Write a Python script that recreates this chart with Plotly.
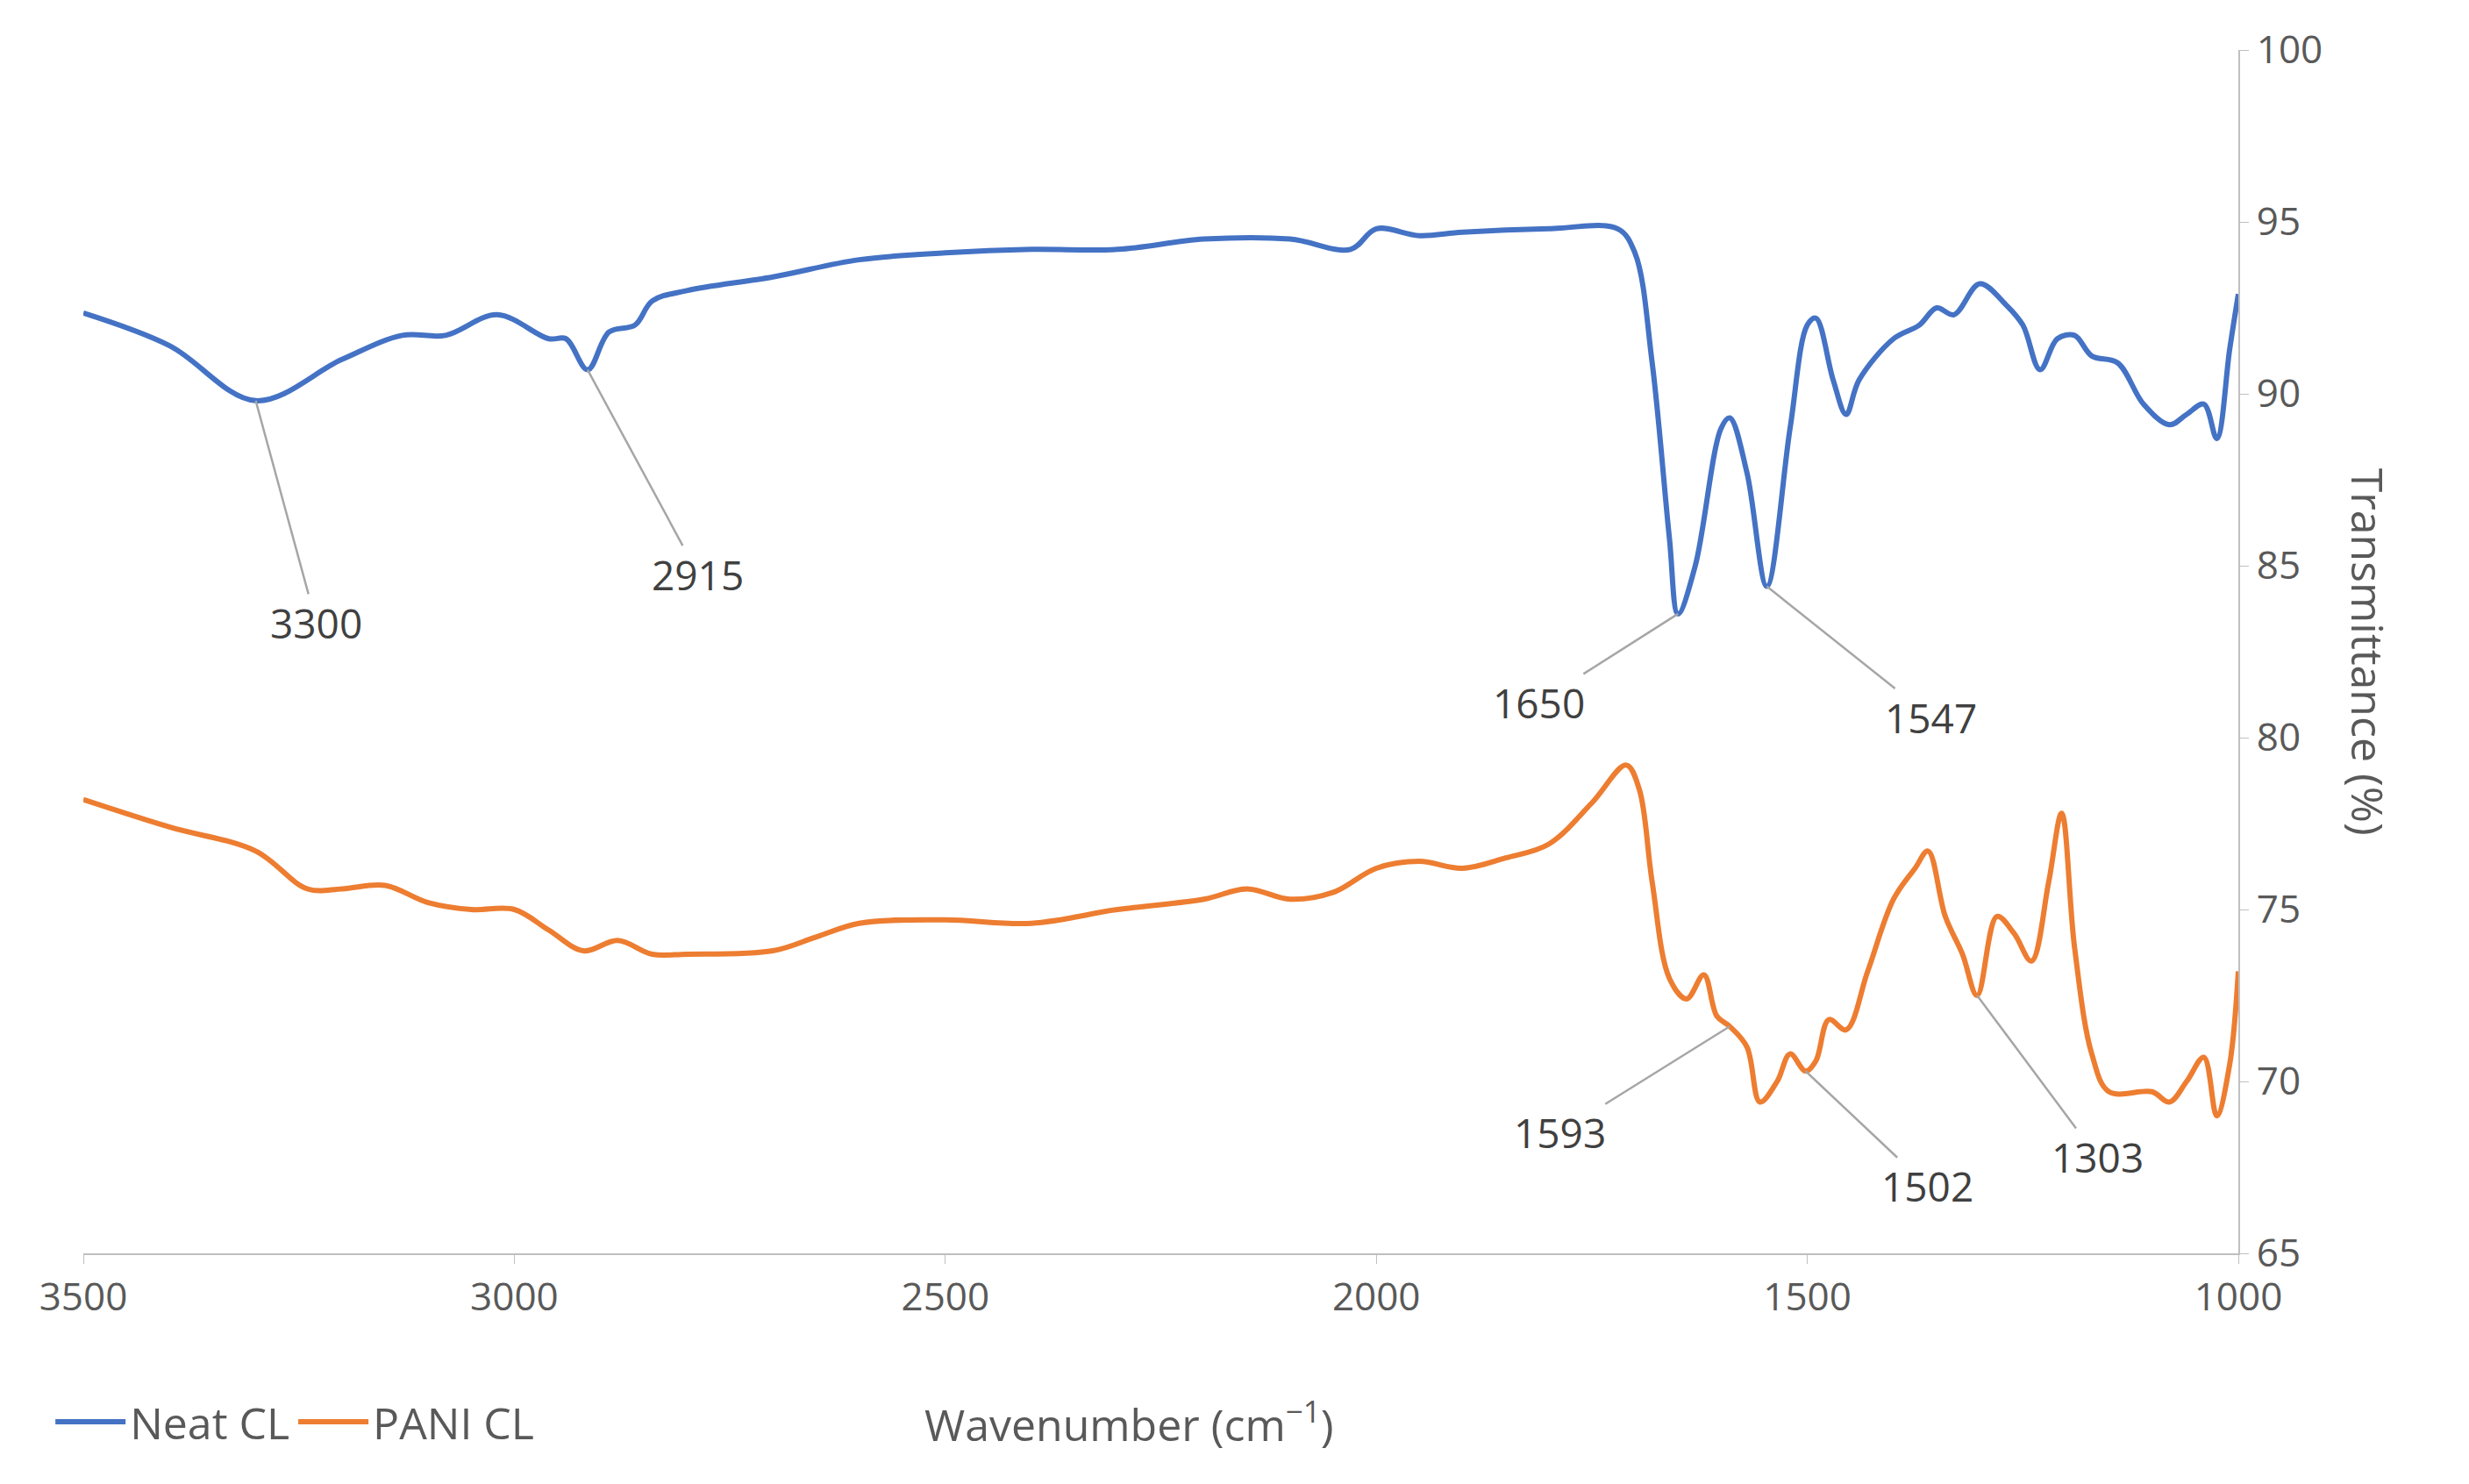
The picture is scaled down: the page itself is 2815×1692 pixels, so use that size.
import plotly.graph_objects as go

# Neat CL spectrum
neat_wn = [3500, 3400, 3300, 3200, 3130, 3080, 3020, 2960, 2940, 2915, 2890, 2860, 2840, 2800,
           2700, 2600, 2500, 2400, 2300, 2200, 2100, 2030, 2000, 1950, 1900, 1800, 1720, 1700,
           1680, 1660, 1650, 1630, 1600, 1590, 1570, 1547, 1520, 1500, 1490, 1470, 1455, 1440,
           1400, 1370, 1350, 1330, 1300, 1270, 1250, 1230, 1210, 1190, 1170, 1140, 1110, 1080,
           1060, 1040, 1025, 1010, 1000]
neat_t = [92.35, 91.4, 89.8, 91.0, 91.7, 91.7, 92.3, 91.6, 91.6, 90.7, 91.8, 92.0, 92.7, 93.0,
          93.4, 93.9, 94.1, 94.2, 94.2, 94.5, 94.5, 94.2, 94.8, 94.6, 94.7, 94.8, 94.8, 94.1,
          90.9, 85.8, 83.6, 85.0, 89.0, 89.3, 87.7, 84.4, 89.0, 92.0, 92.2, 90.4, 89.4, 90.4,
          91.6, 92.0, 92.5, 92.3, 93.2, 92.6, 92.0, 90.7, 91.6, 91.7, 91.1, 90.9, 89.7, 89.1,
          89.4, 89.7, 88.7, 91.3, 92.9]

# PANI CL spectrum
pani_wn = [3500, 3400, 3300, 3240, 3200, 3150, 3100, 3050, 3000, 2960, 2920, 2880, 2840, 2800,
           2700, 2650, 2600, 2500, 2400, 2300, 2200, 2150, 2100, 2050, 2000, 1950, 1900, 1850,
           1800, 1750, 1710, 1695, 1680, 1660, 1640, 1620, 1605, 1590, 1570, 1555, 1535, 1520,
           1502, 1490, 1475, 1455, 1430, 1400, 1375, 1360, 1340, 1320, 1303, 1280, 1260, 1240,
           1220, 1205, 1190, 1170, 1150, 1100, 1080, 1060, 1040, 1025, 1010, 1000]
pani_t = [78.2, 77.4, 76.7, 75.6, 75.6, 75.7, 75.2, 75.0, 75.0, 74.4, 73.8, 74.1, 73.7, 73.7,
          73.8, 74.2, 74.6, 74.7, 74.6, 75.0, 75.3, 75.6, 75.3, 75.5, 76.2, 76.4, 76.2, 76.5,
          76.9, 78.1, 79.2, 78.5, 75.8, 73.0, 72.4, 73.1, 71.9, 71.6, 71.0, 69.4, 70.0, 70.8,
          70.3, 70.6, 71.8, 71.5, 73.2, 75.3, 76.2, 76.7, 74.8, 73.7, 72.5, 74.8, 74.3, 73.5,
          75.8, 77.8, 73.9, 70.8, 69.7, 69.7, 69.4, 70.0, 70.7, 69.0, 70.5, 73.2]

# peak labels: wavenumber, transmittance, label offset (px)
peak_wn = [3300, 2915, 1650, 1547, 1590, 1502, 1303]
peak_t = [89.8, 90.7, 83.6, 84.4, 71.6, 70.3, 72.5]
peak_txt = ["3300", "2915", "1650", "1547", "1593", "1502", "1303"]
peak_dx = [69, 126, -159, 187, -194, 139, 137]
peak_dy = [253, 233, 101, 149, 121, 131, 184]

grey = "#595959"
fig = go.Figure()
fig.add_trace(go.Scatter(x=neat_wn, y=neat_t, mode="lines", name="Neat CL",
                         line=dict(color="#4472C4", width=6, shape="spline")))
fig.add_trace(go.Scatter(x=pani_wn, y=pani_t, mode="lines", name="PANI CL",
                         line=dict(color="#ED7D31", width=6, shape="spline")))

for w, t, s, dx, dy in zip(peak_wn, peak_t, peak_txt, peak_dx, peak_dy):
    fig.add_annotation(x=w, y=t, text=s, showarrow=True, arrowhead=0, arrowwidth=2.5,
                       arrowcolor="#A6A6A6", ax=dx, ay=dy, font=dict(size=46, color="#404040"))

fig.add_annotation(x=0.485, xref="paper", y=-0.14, yref="paper", text="Wavenumber (cm<sup>−1</sup>)",
                   showarrow=False, font=dict(size=50, color=grey), xanchor="center", yanchor="middle")
fig.add_annotation(x=1.075, xref="paper", y=0.5, yref="paper", text="Transmittance (%)",
                   textangle=90, showarrow=False, font=dict(size=50, color=grey))

fig.update_layout(
    width=2815, height=1692,
    margin=dict(l=87, r=271, t=49, b=271),
    plot_bgcolor="white", paper_bgcolor="white",
    font=dict(family="Open Sans", color=grey, size=44),
    legend=dict(orientation="h", x=-0.015, xanchor="left", y=-0.14, yanchor="middle",
                itemwidth=80, font=dict(size=50, color=grey)),
    xaxis=dict(range=[3500, 1000], tickvals=[3500, 3000, 2500, 2000, 1500, 1000],
               showgrid=False, zeroline=False, showline=True, linecolor="#BFBFBF", linewidth=2,
               ticks="outside", tickcolor="#BFBFBF", ticklen=10, tickfont=dict(size=44)),
    yaxis=dict(range=[65, 100], dtick=5, side="right", showgrid=False, zeroline=False,
               showline=True, linecolor="#BFBFBF", linewidth=2, ticks="outside",
               tickcolor="#BFBFBF", ticklen=10, tickfont=dict(size=44)),
)

fig.write_html("out.html")
